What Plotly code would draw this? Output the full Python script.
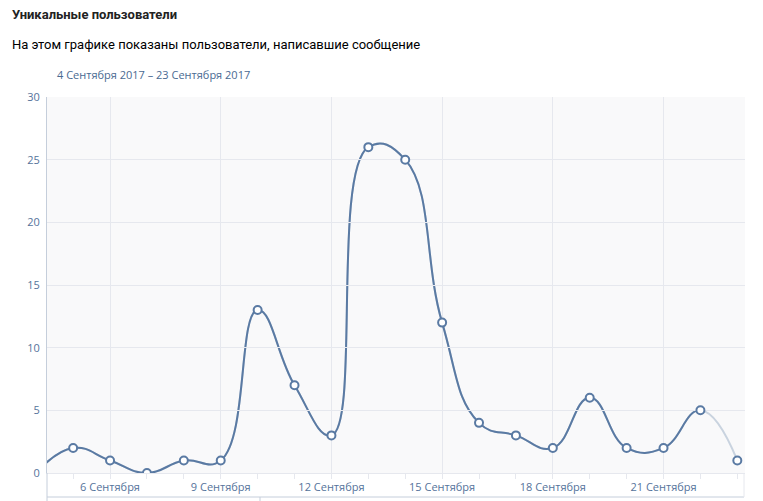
import plotly.graph_objects as go
import pandas as pd

dates = pd.date_range("2017-09-04", "2017-09-23", freq="D")
values = [0, 2, 1, 0, 1, 1, 13, 7, 3, 26, 25, 12, 4, 3, 2, 6, 2, 2, 5, 1]
tick_dates = ["2017-09-06", "2017-09-09", "2017-09-12", "2017-09-15", "2017-09-18", "2017-09-21"]
tick_labels = ["6 Сентября", "9 Сентября", "12 Сентября", "15 Сентября", "18 Сентября", "21 Сентября"]
y_ticks = [0, 5, 10, 15, 20, 25, 30]

LINE = "#5a7aa3"
LIGHT = "#c9d3df"
LABEL = "#55739b"
GRID = "#e6e8ee"
AXIS = "#c5cedb"
BG = "#f9f9fa"
SMOOTH = 1.3

x0 = pd.Timestamp("2017-09-04 07:00")
x1 = pd.Timestamp("2017-09-23 05:00")
split = dates[-2]  # last (incomplete) segment drawn lighter
split_frac = (split - x0) / (x1 - x0)

fig = go.Figure()
# full light line
fig.add_trace(go.Scatter(x=dates, y=values, mode="lines", xaxis="x", yaxis="y",
                         line=dict(color=LIGHT, width=2, shape="spline", smoothing=SMOOTH),
                         hoverinfo="skip"))
# same line in dark, clipped to the complete part via a narrower hidden axis
fig.add_trace(go.Scatter(x=dates, y=values, mode="lines", xaxis="x2", yaxis="y",
                         line=dict(color=LINE, width=2, shape="spline", smoothing=SMOOTH)))
# markers on top
fig.add_trace(go.Scatter(x=dates, y=values, mode="markers", xaxis="x3", yaxis="y",
                         marker=dict(size=8, color="white", line=dict(color=LINE, width=2))))

# page body has an 8px margin, so the figure is sized to fit the 763x501 window
W, H = 755, 493
L, R, T, B = 39, 18, 89, 28
PW, PH = W - L - R, H - T - B

hidden = dict(visible=False, showgrid=False, zeroline=False, automargin=False, fixedrange=True)

fig.update_layout(
    width=W, height=H,
    margin=dict(l=L, r=R, t=T, b=B, autoexpand=False),
    paper_bgcolor="white", plot_bgcolor="rgba(0,0,0,0)",
    showlegend=False,
    font=dict(family="Open Sans", color=LABEL, size=11),
    xaxis=dict(range=[x0, x1], domain=[0, 1], tickvals=tick_dates, ticktext=tick_labels,
               showgrid=True, gridcolor=GRID, gridwidth=1, automargin=False,
               ticks="outside", ticklen=0, tickfont=dict(size=11, color=LABEL),
               ticklabelstandoff=4,
               showline=True, linecolor=GRID, zeroline=False,
               minor=dict(dtick=86400000, ticks="outside", ticklen=5, tickcolor=GRID, showgrid=False),
               fixedrange=True),
    xaxis2=dict(range=[x0, split], domain=[0, split_frac], anchor="y", **hidden),
    xaxis3=dict(range=[x0, x1], domain=[0, 1], anchor="y", **hidden),
    yaxis=dict(range=[0, 30], tickvals=y_ticks, showgrid=True, gridcolor=GRID, automargin=False,
               zeroline=False, showline=True, linecolor=AXIS, linewidth=1,
               tickfont=dict(size=11, color=LABEL), ticks="", ticklabelstandoff=4),
    annotations=[
        dict(text="<b>Уникальные пользователи</b>", xref="paper", yref="paper",
             x=-(L - 2) / PW, y=1 + 83 / PH, xanchor="left", yanchor="middle", showarrow=False,
             font=dict(family="Roboto", size=13, color="#222222")),
        dict(text="На этом графике показаны пользователи, написавшие сообщение", xref="paper", yref="paper",
             x=-(L - 2) / PW, y=1 + 53 / PH, xanchor="left", yanchor="middle", showarrow=False,
             font=dict(family="Roboto", size=13, color="#000000")),
        dict(text="4 Сентября 2017 – 23 Сентября 2017", xref="paper", yref="paper",
             x=8 / PW, y=1 + 22 / PH, xanchor="left", yanchor="middle", showarrow=False,
             font=dict(family="Open Sans", size=11, color="#4a6a92")),
    ],
    shapes=[
        dict(type="rect", xref="paper", yref="paper", x0=0, x1=1, y0=0, y1=1,
             fillcolor=BG, line=dict(width=0), layer="below"),
        dict(type="line", xref="paper", yref="paper", x0=0, x1=0, y0=0, y1=-28 / PH,
             line=dict(color=AXIS, width=1)),
        dict(type="line", xref="paper", yref="paper", x0=0, x1=(PW - 1) / PW, y0=-24 / PH, y1=-24 / PH,
             line=dict(color=AXIS, width=1)),
        dict(type="line", xref="paper", yref="paper", x0=(PW - 1) / PW, x1=(PW - 1) / PW, y0=0, y1=-24 / PH,
             line=dict(color=GRID, width=1)),
        dict(type="line", xref="paper", yref="paper", x0=213 / PW, x1=213 / PW, y0=-24 / PH, y1=-28 / PH,
             line=dict(color=AXIS, width=1)),
    ],
)

fig.write_html("out.html")
